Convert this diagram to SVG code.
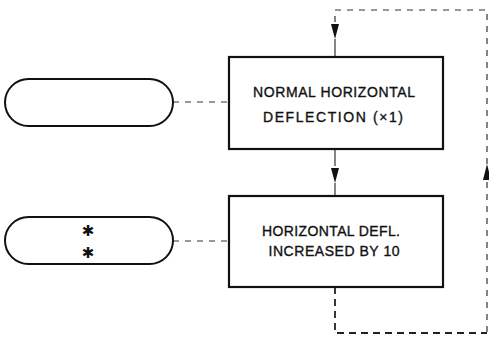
<svg xmlns="http://www.w3.org/2000/svg" width="489" height="338" viewBox="0 0 489 338">
<style>
.box{fill:#fff;stroke:#111;stroke-width:2.2}
.pill{fill:#fff;stroke:#111;stroke-width:2}
.dash{fill:none;stroke:#333;stroke-width:1.2;stroke-dasharray:6 6}
.dashb{fill:none;stroke:#222;stroke-width:1.8;stroke-dasharray:7 5}
.solid{fill:none;stroke:#333;stroke-width:1.2}
.t{font-family:"Liberation Sans",Arial,sans-serif;font-size:14px;fill:#111;text-anchor:middle;stroke:#111;stroke-width:0.35}
.ast{font-family:"DejaVu Sans",sans-serif;font-size:15px;fill:#111;text-anchor:middle}
</style>
<g id="connectors">
<line class="dash" x1="173" y1="102" x2="229" y2="102"/>
<line class="dash" x1="173" y1="241" x2="229" y2="241"/>
<polyline class="dash" points="335,22 335,10 487,10 487,333"/>
<path d="M331,24 L339,24 L335,39 z" fill="#111"/>
<line class="solid" x1="335" y1="39" x2="335" y2="57"/>
<line class="solid" x1="335" y1="149" x2="335" y2="166"/>
<path d="M331,168 L339,168 L335,183 z" fill="#111"/>
<line class="solid" x1="335" y1="183" x2="335" y2="196"/>
<polyline class="dashb" points="335,287 335,333 487,333"/>
<path d="M483,180 L491,180 L487,164 z" fill="#111"/>
</g>
<g id="pill1"><rect class="pill" x="5" y="79" width="168" height="47" rx="23.5"/></g>
<g id="pill2"><rect class="pill" x="5" y="217" width="168" height="47" rx="23.5"/>
<text class="ast" x="88" y="235.5">✱</text>
<text class="ast" x="88" y="257.5">✱</text>
</g>
<g id="box1"><rect class="box" x="229" y="57" width="214" height="92"/>
<text class="t" x="334" y="97" textLength="162" lengthAdjust="spacing">NORMAL HORIZONTAL</text>
<text class="t" x="333" y="122" textLength="140" lengthAdjust="spacing">DEFLECTION (×1)</text>
</g>
<g id="box2"><rect class="box" x="229" y="196" width="214" height="91"/>
<text class="t" x="331" y="236" textLength="138" lengthAdjust="spacing">HORIZONTAL DEFL.</text>
<text class="t" x="334" y="256" textLength="131" lengthAdjust="spacing">INCREASED BY 10</text>
</g>
</svg>
